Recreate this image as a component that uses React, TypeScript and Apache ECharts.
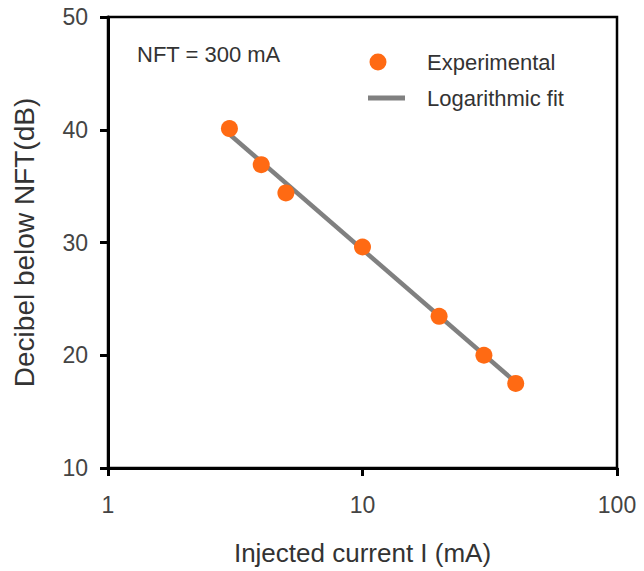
import React, { useEffect, useRef } from "react";
import * as echarts from "echarts";

const currentMA = [3, 4, 5, 10, 20, 30, 40];
const decibels = [40.1, 36.9, 34.4, 29.6, 23.45, 20.0, 17.5];
const fitCurrent = [3, 40];
const fitDecibels = [39.6, 17.6];
const yTicks = [10, 20, 30, 40, 50];
const xTicks = [1, 10, 100];

const FONT = "'Liberation Sans', Arial, sans-serif";

// legend icons: 54x18 box, anchored by tiny corner squares so the visible part keeps its place
const anchors = "M0,0H0.01V0.01H0Z M53.99,17.99H54V18H53.99Z";
const dotIcon = `path://${anchors} M1.5,9 A8.5,8.5 0 1,0 18.5,9 A8.5,8.5 0 1,0 1.5,9 Z`;
const lineIcon = `path://${anchors} M0,6.5H37V11.5H0Z`;

export default function App() {
  const ref = useRef<HTMLDivElement>(null);
  useEffect(() => {
    if (!ref.current) return;
    const chart = echarts.init(ref.current, undefined, { renderer: "svg" });
    chart.setOption({
      animation: false,
      backgroundColor: "#fff",
      grid: {
        left: 108,
        right: 27,
        top: 17,
        bottom: 103,
        containLabel: false,
        outerBoundsMode: "none",
        show: true,
        borderColor: "#000",
        borderWidth: 2.5,
      },
      legend: {
        left: 363,
        top: 46,
        orient: "vertical",
        itemWidth: 54,
        itemHeight: 18,
        itemGap: 14,
        textStyle: { fontFamily: FONT, fontSize: 22, color: "#333", lineHeight: 22 },
        data: [
          { name: "Experimental", icon: dotIcon },
          { name: "Logarithmic fit", icon: lineIcon },
        ],
      },
      graphic: [
        {
          type: "text",
          x: 137,
          y: 54,
          style: {
            text: "NFT = 300 mA",
            font: `22px ${FONT}`,
            fill: "#333",
            verticalAlign: "middle",
          },
        },
      ],
      xAxis: {
        type: "log",
        logBase: 10,
        min: xTicks[0],
        max: xTicks[xTicks.length - 1],
        name: "Injected current I (mA)",
        nameLocation: "middle",
        nameGap: 72,
        nameTextStyle: { fontFamily: FONT, fontSize: 26, color: "#333" },
        axisLine: { lineStyle: { color: "#000", width: 3 } },
        axisTick: { show: true, length: 8, lineStyle: { color: "#000", width: 3 } },
        minorTick: { show: false },
        splitLine: { show: false },
        axisLabel: { fontFamily: FONT, fontSize: 23, color: "#444", margin: 25 },
      },
      yAxis: {
        type: "value",
        min: yTicks[0],
        max: yTicks[yTicks.length - 1],
        interval: 10,
        name: "Decibel below NFT(dB)",
        nameLocation: "middle",
        nameGap: 70,
        nameTextStyle: { fontFamily: FONT, fontSize: 28, color: "#333" },
        axisLine: { show: true, lineStyle: { color: "#000", width: 3 } },
        axisTick: { show: true, length: 8, lineStyle: { color: "#000", width: 3 } },
        splitLine: { show: false },
        axisLabel: { fontFamily: FONT, fontSize: 23, color: "#444", margin: 20 },
      },
      series: [
        {
          name: "Logarithmic fit",
          type: "line",
          symbol: "none",
          lineStyle: { color: "#808080", width: 4.5 },
          itemStyle: { color: "#808080" },
          data: fitCurrent.map((x, i) => [x, fitDecibels[i]]),
          z: 2,
        },
        {
          name: "Experimental",
          type: "scatter",
          symbol: "circle",
          symbolSize: 17,
          itemStyle: { color: "#FF6A13", opacity: 1 },
          data: currentMA.map((x, i) => [x, decibels[i]]),
          z: 3,
        },
      ],
    });
    return () => chart.dispose();
  }, []);
  return (
    <div
      ref={ref}
      style={{ position: "fixed", left: 0, top: 0, width: 644, height: 571, background: "#fff" }}
    />
  );
}
